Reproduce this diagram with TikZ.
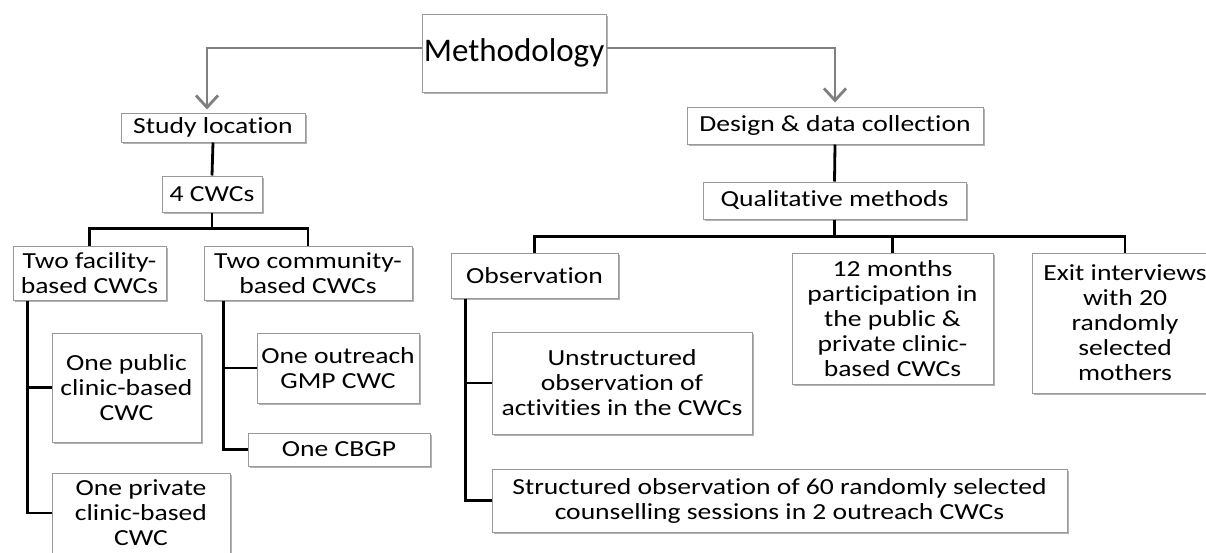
\documentclass[tikz,border=0pt]{standalone}
\usepackage{fontspec}
\setmainfont{Carlito}[FakeStretch=1.2, Ligatures=NoCommon]
\newfontfamily\methfont{Carlito}[Ligatures=NoCommon]
\usetikzlibrary{arrows.meta,shadows}
\begin{document}
\begin{tikzpicture}[x=1pt,y=-1pt,
  box/.style={draw=black!40, line width=1pt, fill=white, align=center,
    inner sep=0pt, font=\fontsize{23}{25}\selectfont, text=black,
    drop shadow={shadow xshift=1.5pt, shadow yshift=-1.8pt, opacity=0.3, fill=black}},
  conn/.style={line width=2.8pt, draw=black},
  garrow/.style={line width=2.8pt, draw=black!50,
    -{Straight Barb[length=12pt,width=22pt,line width=2.8pt]}}
]
\useasboundingbox (0,0) rectangle (1206,552);
\fill[white] (0,0) rectangle (1206,552);
\clip (0,0) rectangle (1206,552);

% nodes
\node[box, font=\methfont\fontsize{33}{38}\selectfont, minimum width=184pt, minimum height=78pt] (meth) at (514,53) {Methodology};
\node[box, minimum width=184pt, minimum height=29pt] (study) at (213,127.5) {Study location};
\node[box, minimum width=100pt, minimum height=36pt] (cwc4) at (212,194) {4 CWCs};
\node[box, minimum width=153pt, minimum height=54pt] (fac) at (89.5,273) {Two facility-\\based CWCs};
\node[box, minimum width=208pt, minimum height=54pt] (com) at (308,273) {Two community-\\based CWCs};
\node[box, minimum width=149pt, minimum height=109pt] (pub) at (126.5,387.5) {One public\\clinic-based\\CWC};
\node[box, minimum width=178pt, minimum height=80pt] (priv) at (141,513) {One private\\clinic-based\\CWC};
\node[box, minimum width=162pt, minimum height=70pt] (out) at (338,368) {One outreach\\GMP CWC};
\node[box, minimum width=182pt, minimum height=33pt] (cbgp) at (339,449.5) {One CBGP};

\node[box, minimum width=296pt, minimum height=37pt] (design) at (835,125.5) {Design \& data collection};
\node[box, minimum width=263pt, minimum height=37pt] (qual) at (834.5,200.5) {Qualitative methods};
\node[box, minimum width=167pt, minimum height=45pt] (obs) at (534.5,275.5) {Observation};
\node[box, minimum width=201pt, minimum height=131pt] (m12) at (892.5,318.5) {12 months\\participation in\\the public \&\\private clinic-\\based CWCs};
\node[box, minimum width=186pt, minimum height=140pt] (exit) at (1125,323) {Exit interviews\\with 20\\randomly\\selected\\mothers};
\node[box, minimum width=260pt, minimum height=102pt] (unst) at (622,383) {Unstructured\\observation of\\activities in the CWCs};
\node[box, minimum width=575pt, minimum height=63pt] (struc) at (779.5,500.5) {Structured observation of 60 randomly selected\\counselling sessions in 2 outreach CWCs};

% gray arrows
\draw[garrow, shorten >=3pt] ([yshift=5pt]meth.west) -| ([xshift=-6pt]study.north);
\draw[garrow, shorten >=4pt] ([yshift=5pt]meth.east) -| (design.north);

% left tree
\draw[conn] (study.south) -- (cwc4.north);
\draw[conn] (cwc4.south) -- ++(0,16) -| (fac.north);
\draw[conn] (cwc4.south) -- ++(0,16) -| (com.north);
\draw[conn] ([xshift=15pt]fac.south west) |- (pub.west);
\draw[conn] ([xshift=15pt]fac.south west) |- (priv.west);
\draw[conn] ([xshift=20pt]com.south west) |- (out.west);
\draw[conn] ([xshift=20pt]com.south west) |- (cbgp.west);

% right tree
\draw[conn] (design.south) -- (qual.north);
\draw[conn] (qual.south) -- ++(0,17) -| (obs.north);
\draw[conn] (qual.south) -- ++(0,17) -| (m12.north);
\draw[conn] (qual.south) -- ++(0,17) -| (exit.north);
\draw[conn] ([xshift=15pt]obs.south west) |- (unst.west);
\draw[conn] ([xshift=15pt]obs.south west) |- (struc.west);
\end{tikzpicture}
\end{document}
